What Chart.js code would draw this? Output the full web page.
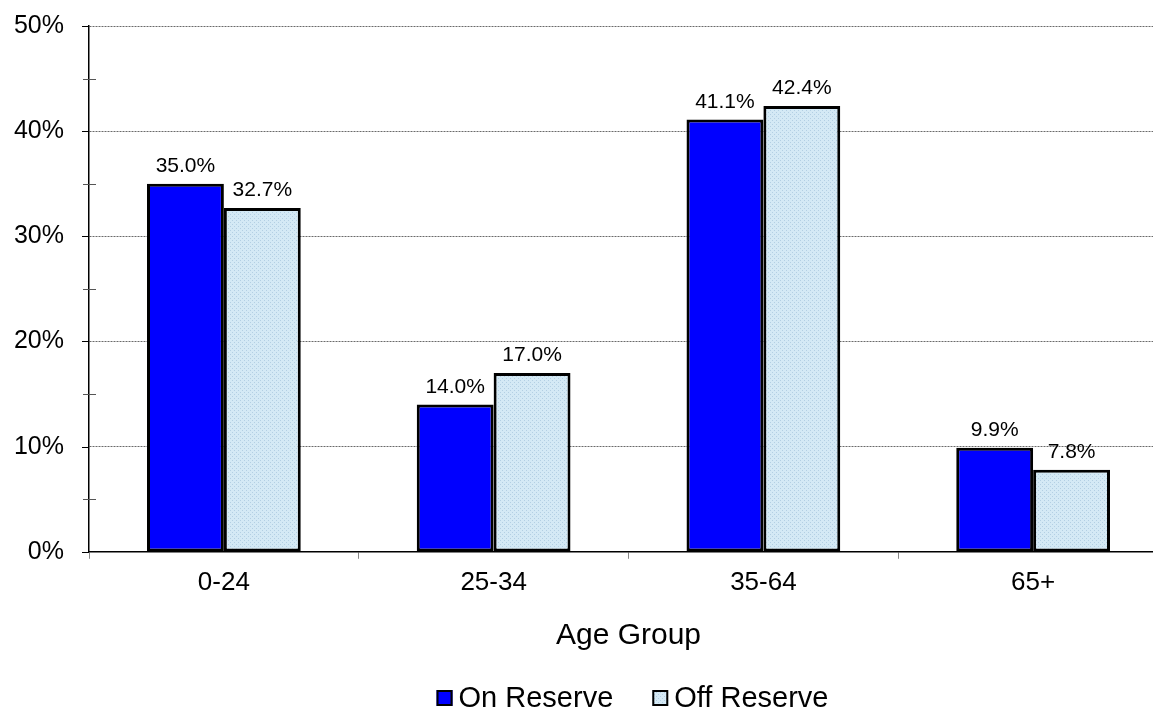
<!DOCTYPE html>
<html>
<head>
<meta charset="utf-8">
<script src="https://cdn.jsdelivr.net/npm/chart.js@4.4.1/dist/chart.umd.min.js"></script>
<style>
  html, body { margin: 0; padding: 0; background: #fff; overflow: hidden; width: 1153px; height: 711px; }
  #wrap { width: 1170px; height: 711px; }
</style>
</head>
<body>
<div id="wrap"><canvas id="ageChart"></canvas></div>
<script>
// Age group distribution, on vs off reserve
const ageGroups = ['0-24', '25-34', '35-64', '65+'];
const onReserve = [35.0, 14.0, 41.1, 9.9];
const offReserve = [32.7, 17.0, 42.4, 7.8];
const seriesNames = ['On Reserve', 'Off Reserve'];
const yMax = 50;

const FONT = "'Liberation Sans', Arial, sans-serif";

// dotted light-blue fill for the Off Reserve bars
function makeDotPattern() {
    const c = document.createElement('canvas');
    c.width = 4;
    c.height = 4;
    const g = c.getContext('2d');
    g.fillStyle = '#d4e9f5';
    g.fillRect(0, 0, 4, 4);
    g.fillStyle = '#b3cfe3';
    g.fillRect(0, 0, 1, 1);
    g.fillRect(2, 2, 1, 1);
    return g.createPattern(c, 'repeat');
}
const offFill = makeDotPattern();

// value labels above each bar
const barLabels = {
    id: 'barLabels',
    afterDatasetsDraw(chart) {
        const ctx = chart.ctx;
        ctx.save();
        ctx.font = '21px ' + FONT;
        ctx.fillStyle = '#000';
        ctx.textAlign = 'center';
        ctx.textBaseline = 'alphabetic';
        chart.data.datasets.forEach((ds, i) => {
            chart.getDatasetMeta(i).data.forEach((bar, j) => {
                ctx.fillText(ds.data[j].toFixed(1) + '%', bar.x, bar.y - 12);
            });
        });
        ctx.restore();
    }
};

// y tick marks: major ones left of the axis, minor 5% ones crossing it
const yTickMarks = {
    id: 'yTickMarks',
    afterDraw(chart) {
        const y = chart.scales.y;
        const ctx = chart.ctx;
        ctx.save();
        ctx.lineWidth = 1;
        for (let v = 0; v <= yMax; v += 5) {
            const py = Math.round(y.getPixelForValue(v)) + 0.5;
            ctx.beginPath();
            if (v % 10 === 0) {
                ctx.strokeStyle = '#000';
                ctx.moveTo(y.right - 7, py);
                ctx.lineTo(y.right, py);
            } else {
                ctx.strokeStyle = '#555';
                ctx.moveTo(y.right - 6, py);
                ctx.lineTo(y.right + 7, py);
            }
            ctx.stroke();
        }
        ctx.restore();
    }
};

// legend drawn like the office-style one: small box, tight text, wide gap
const boxLegend = {
    id: 'boxLegend',
    afterDraw(chart) {
        const ctx = chart.ctx;
        const area = chart.chartArea;
        const box = 16, gapText = 6, gapItem = 39;
        ctx.save();
        ctx.font = '29px ' + FONT;
        const widths = seriesNames.map(n => ctx.measureText(n).width);
        let total = 0;
        widths.forEach((w, i) => { total += box + gapText + w + (i ? gapItem : 0); });
        let x = (area.left + area.right) / 2 - total / 2 + 4;
        const baseline = 707;
        const boxTop = 690;
        chart.data.datasets.forEach((ds, i) => {
            ctx.fillStyle = ds.backgroundColor;
            ctx.fillRect(x, boxTop, box, box);
            ctx.strokeStyle = '#000';
            ctx.lineWidth = 2;
            ctx.strokeRect(x + 1, boxTop + 1, box - 2, box - 2);
            x += box + gapText;
            ctx.fillStyle = '#000';
            ctx.textAlign = 'left';
            ctx.textBaseline = 'alphabetic';
            ctx.fillText(seriesNames[i], x, baseline);
            x += widths[i] + gapItem;
        });
        ctx.restore();
    }
};

new Chart(document.getElementById('ageChart').getContext('2d'), {
    type: 'bar',
    data: {
        labels: ageGroups,
        datasets: [
            {
                label: seriesNames[0],
                data: onReserve,
                backgroundColor: '#0000ff',
                borderColor: '#000',
                borderWidth: 3,
                borderSkipped: false,
                categoryPercentage: 0.57,
                barPercentage: 1.0
            },
            {
                label: seriesNames[1],
                data: offReserve,
                backgroundColor: offFill,
                borderColor: '#000',
                borderWidth: 3,
                borderSkipped: false,
                categoryPercentage: 0.57,
                barPercentage: 1.0
            }
        ]
    },
    options: {
        responsive: true,
        maintainAspectRatio: false,
        animation: false,
        layout: { padding: { top: 26, right: 2, left: 0, bottom: 47 } },
        plugins: {
            legend: { display: false },
            tooltip: { enabled: false }
        },
        scales: {
            x: {
                border: { display: true, color: '#000', width: 1.5 },
                grid: {
                    offset: true,
                    drawOnChartArea: false,
                    drawTicks: true,
                    tickLength: 7,
                    tickColor: '#888'
                },
                ticks: {
                    color: '#000',
                    font: { family: FONT, size: 26 },
                    padding: 8
                },
                title: {
                    display: true,
                    text: 'Age Group',
                    color: '#000',
                    font: { family: FONT, size: 30 },
                    padding: { top: 12, bottom: 10 }
                }
            },
            y: {
                min: 0,
                max: yMax,
                afterFit(scale) { scale.width = 89; },
                border: { display: true, color: '#000', width: 1.5, dash: [2, 1] },
                grid: {
                    color: ctx => (ctx.tick && ctx.tick.value % 10 === 0 && ctx.tick.value > 0) ? '#444' : 'rgba(0,0,0,0)',
                    lineWidth: 0.8,
                    tickBorderDash: [],
                    tickLength: 25,
                    tickColor: 'rgba(0,0,0,0)'
                },
                ticks: {
                    stepSize: 5,
                    autoSkip: false,
                    color: '#000',
                    font: { family: FONT, size: 25 },
                    padding: 0,
                    callback: v => (v % 10 === 0 ? v + '%' : '')
                }
            }
        }
    },
    plugins: [barLabels, yTickMarks, boxLegend]
});
</script>
</body>
</html>
